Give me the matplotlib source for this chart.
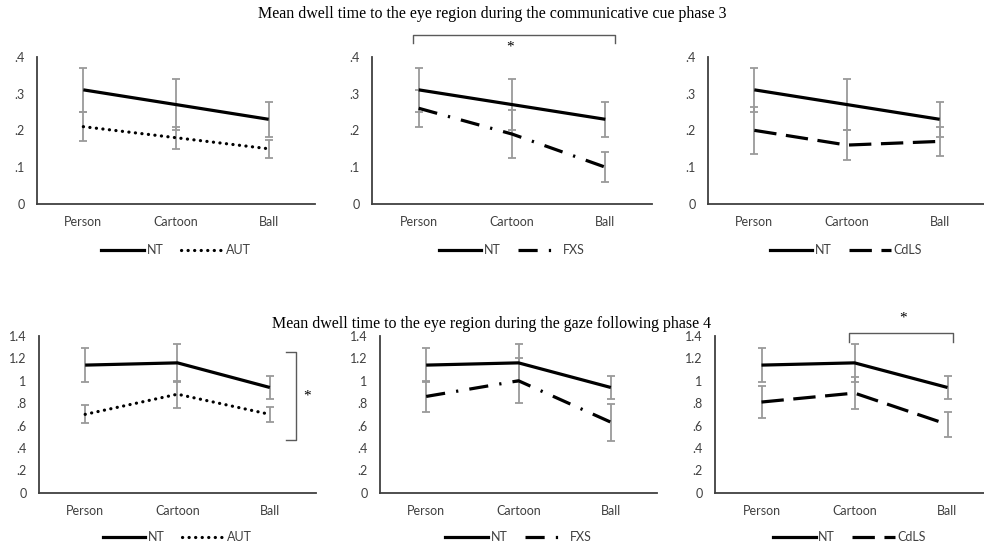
import matplotlib
matplotlib.use("Agg")
import matplotlib.pyplot as plt
from matplotlib.lines import Line2D

# ---- data ----
stimuli = ["Person", "Cartoon", "Ball"]

p3_nt = [0.31, 0.27, 0.23]
p3_nt_err = [0.06, 0.07, 0.048]
p3_aut = [0.21, 0.18, 0.15]
p3_aut_err = [0.04, 0.03, 0.025]
p3_fxs = [0.26, 0.19, 0.10]
p3_fxs_err = [0.05, 0.065, 0.04]
p3_cdls = [0.20, 0.16, 0.17]
p3_cdls_err = [0.064, 0.04, 0.04]

p4_nt = [1.14, 1.16, 0.94]
p4_nt_err = [0.15, 0.17, 0.105]
p4_aut = [0.70, 0.88, 0.70]
p4_aut_err = [0.08, 0.12, 0.07]
p4_fxs = [0.86, 1.00, 0.63]
p4_fxs_err = [0.137, 0.20, 0.165]
p4_cdls = [0.81, 0.89, 0.61]
p4_cdls_err = [0.145, 0.14, 0.115]

p3_ticks = [0, 0.1, 0.2, 0.3, 0.4]
p3_ticklabels = ["0", ".1", ".2", ".3", ".4"]
p4_ticks = [0, 0.2, 0.4, 0.6, 0.8, 1.0, 1.2, 1.4]
p4_ticklabels = ["0", ".2", ".4", ".6", ".8", "1", "1.2", "1.4"]

title3 = "Mean dwell time to the eye region during the communicative cue phase 3"
title4 = "Mean dwell time to the eye region during the gaze following phase 4"

W, H = 984, 545
GREY_TXT = "#404040"
ERR = "#9a9a9a"
LW = 2.3

styles = {
    "AUT": dict(linestyle=(0, (0.05, 2.0)), dash_capstyle="round"),
    "FXS": dict(linestyle=(0, (6, 3.5, 0.7, 3.5))),
    "CdLS": dict(linestyle=(0, (7, 3))),
}

plt.rcParams["font.family"] = ["Lato", "DejaVu Sans"]

fig = plt.figure(figsize=(W / 100, H / 100), dpi=100)


def px_axes(x0, x1, y_top, y_bot):
    return fig.add_axes([x0 / W, 1 - y_bot / H, (x1 - x0) / W, (y_bot - y_top) / H])


def panel(ax, nt, nt_err, grp, grp_err, name, ymax, ticks, ticklabels, leg_y):
    x = list(range(len(stimuli)))
    ax.errorbar(x, grp, yerr=grp_err, fmt="none", ecolor=ERR, elinewidth=1.3,
                capsize=2.7, capthick=1.3, zorder=1)
    ax.errorbar(x, nt, yerr=nt_err, fmt="none", ecolor=ERR, elinewidth=1.3,
                capsize=2.7, capthick=1.3, zorder=1)
    ax.plot(x, nt, color="black", lw=LW, solid_capstyle="butt", zorder=3)
    ax.plot(x, grp, color="black", lw=LW, zorder=3, **styles[name])
    ax.set_xlim(-0.5, 2.5)
    ax.set_ylim(0, ymax)
    ax.set_xticks(x)
    ax.set_xticklabels(stimuli)
    ax.set_yticks(ticks)
    ax.set_yticklabels(ticklabels)
    ax.tick_params(length=0, labelsize=9, colors=GREY_TXT)
    ax.tick_params(axis="x", pad=9)
    ax.tick_params(axis="y", pad=9)
    for s in ["top", "right"]:
        ax.spines[s].set_visible(False)
    for s in ["left", "bottom"]:
        ax.spines[s].set_color("#404040")
        ax.spines[s].set_linewidth(1.3)
    handles = [Line2D([], [], color="black", lw=LW),
               Line2D([], [], color="black", lw=LW, **styles[name])]
    bb = ax.get_position()
    cx = bb.x0 + min(bb.width, 1 - bb.x0) / 2 if bb.x1 > 1 else bb.x0 + bb.width / 2
    ax.legend(handles, ["NT", name], ncol=2, frameon=False, loc="center",
              bbox_to_anchor=(cx, 1 - leg_y / H), bbox_transform=fig.transFigure,
              fontsize=9, labelcolor=GREY_TXT, handlelength=3.4,
              handletextpad=0.2, columnspacing=1.4)


# top row (phase 3)
ax1 = px_axes(37, 315, 56.7, 204)
ax2 = px_axes(372, 652, 56.7, 204)
ax3 = px_axes(708, 986, 56.7, 204)
panel(ax1, p3_nt, p3_nt_err, p3_aut, p3_aut_err, "AUT", 0.4, p3_ticks, p3_ticklabels, 250)
panel(ax2, p3_nt, p3_nt_err, p3_fxs, p3_fxs_err, "FXS", 0.4, p3_ticks, p3_ticklabels, 250)
panel(ax3, p3_nt, p3_nt_err, p3_cdls, p3_cdls_err, "CdLS", 0.4, p3_ticks, p3_ticklabels, 250)

# bottom row (phase 4)
ax4 = px_axes(39, 316, 336, 492.7)
ax5 = px_axes(380, 657, 336, 492.7)
ax6 = px_axes(715, 994, 336, 492.7)
panel(ax4, p4_nt, p4_nt_err, p4_aut, p4_aut_err, "AUT", 1.4, p4_ticks, p4_ticklabels, 537)
panel(ax5, p4_nt, p4_nt_err, p4_fxs, p4_fxs_err, "FXS", 1.4, p4_ticks, p4_ticklabels, 537)
panel(ax6, p4_nt, p4_nt_err, p4_cdls, p4_cdls_err, "CdLS", 1.4, p4_ticks, p4_ticklabels, 537)

# significance brackets
BR = "#5a5a5a"
ax2.plot([-0.06, -0.06, 2.1, 2.1], [0.437, 0.459, 0.459, 0.437], color=BR, lw=1, clip_on=False)
ax2.text(0.98, 0.425, "*", ha="center", va="center", fontsize=11, family="Liberation Serif")

ax4.plot([2.18, 2.28, 2.28, 2.18], [1.26, 1.26, 0.468, 0.468], color=BR, lw=1, clip_on=False)
ax4.text(2.40, 0.86, "*", ha="center", va="center", fontsize=11, family="Liberation Serif")

ax6.plot([0.94, 0.94, 2.06, 2.06], [1.349, 1.424, 1.424, 1.349], color=BR, lw=1, clip_on=False)
ax6.text(1.52, 1.56, "*", ha="center", va="center", fontsize=11, family="Liberation Serif")

# row titles
fig.text(492 / W, 1 - 14 / H, title3, ha="center", va="center", fontsize=11.5,
         family="Liberation Serif")
fig.text(492 / W, 1 - 324 / H, title4, ha="center", va="center", fontsize=11.5,
         family="Liberation Serif")

fig.savefig("out.png", dpi=100)
